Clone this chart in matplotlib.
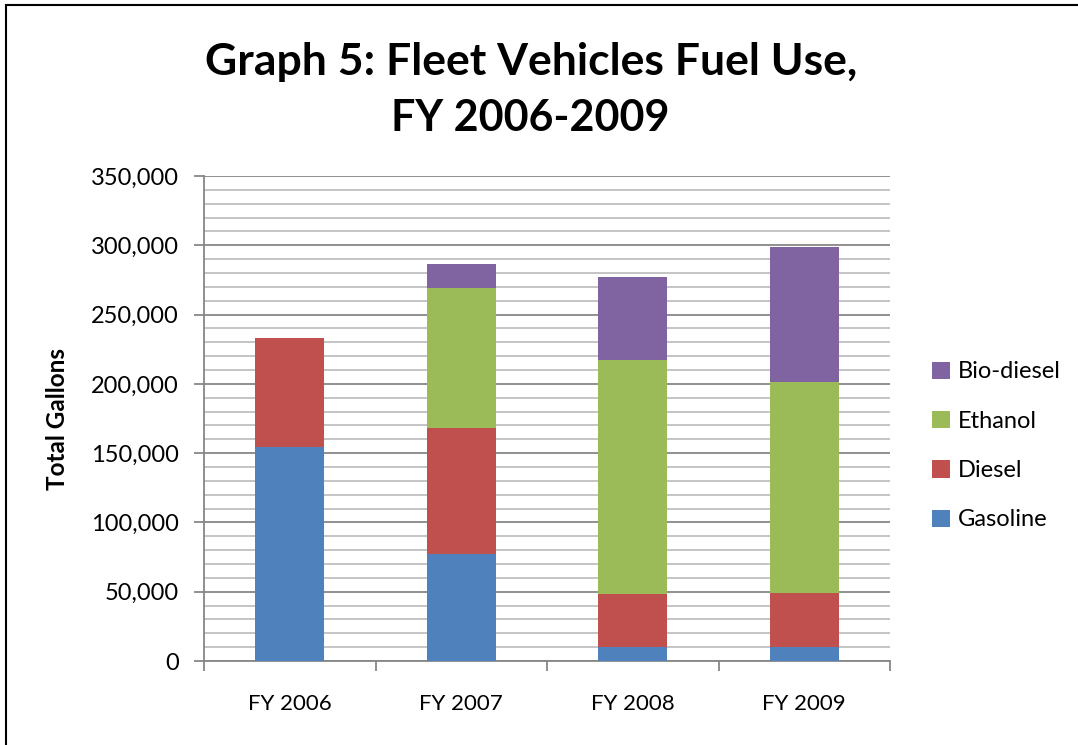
import matplotlib
matplotlib.use("Agg")
import matplotlib.pyplot as plt
import numpy as np
from matplotlib.patches import Rectangle
from matplotlib.ticker import MultipleLocator, FuncFormatter, FixedLocator

categories = ["FY 2006", "FY 2007", "FY 2008", "FY 2009"]
gasoline = [154200, 77200, 10300, 9900]
diesel = [79100, 91100, 37800, 38900]
ethanol = [0, 101100, 169100, 152300]
biodiesel = [0, 17000, 59600, 97600]
series_names = ["Gasoline", "Diesel", "Ethanol", "Bio-diesel"]
colors = ["#4F81BD", "#C0504D", "#9BBB59", "#8064A2"]

plt.rcParams['font.family'] = ['Lato', 'DejaVu Sans']

fig = plt.figure(figsize=(10.78, 7.45), dpi=100)
fig.patches.append(Rectangle((6/1078, -0.1), 1.2, 1 - 5/745 + 0.1, transform=fig.transFigure,
                             fill=False, edgecolor="black", linewidth=1.5, zorder=10))

ax = fig.add_axes([204/1078, 1 - 661/745, 686/1078, 485/745])
x = np.arange(len(categories))
bottom = np.zeros(len(categories))
data = [gasoline, diesel, ethanol, biodiesel]
bars = []
for vals, name, c in zip(data, series_names, colors):
    b = ax.bar(x, vals, 0.4, bottom=bottom, color=c, label=name, zorder=3)
    bars.append(b)
    bottom += np.array(vals)

ax.set_xlim(-0.5, 3.5)
ax.set_ylim(0, 350000)
ax.yaxis.set_major_locator(MultipleLocator(50000))
ax.yaxis.set_minor_locator(MultipleLocator(10000))
ax.yaxis.set_major_formatter(FuncFormatter(lambda v, p: f"{int(v):,}"))
ax.grid(which="minor", axis="y", color="#BFBFBF", linewidth=1.3, zorder=0)
ax.grid(which="major", axis="y", color="#878787", linewidth=1.3, zorder=1)
ax.tick_params(axis="y", which="major", length=7, width=1.3, color="#878787",
               labelsize=17, pad=11)
ax.tick_params(axis="y", which="minor", length=0)

ax.set_xticks(x)
ax.set_xticklabels(categories)
ax.xaxis.set_minor_locator(FixedLocator([-0.5, 0.5, 1.5, 2.5, 3.5]))
ax.tick_params(axis="x", which="major", length=0, labelsize=16, pad=24)
ax.tick_params(axis="x", which="minor", length=7, width=1.3, color="#878787")

for s in ["top", "right"]:
    ax.spines[s].set_visible(False)
for s in ["left", "bottom"]:
    ax.spines[s].set_color("#878787")
    ax.spines[s].set_linewidth(1.3)

ax.set_ylabel("Total Gallons", fontsize=17.5, fontweight="bold", labelpad=16)

fig.text(531/1078, 1 - 62/745, "Graph 5: Fleet Vehicles Fuel Use,", ha="center", va="center",
         fontsize=32, fontweight="bold")
fig.text(530/1078, 1 - 118/745, "FY 2006-2009", ha="center", va="center",
         fontsize=31, fontweight="bold")

handles = [bars[i] for i in [3, 2, 1, 0]]
labels = [series_names[i] for i in [3, 2, 1, 0]]
leg = fig.legend(handles, labels, loc="center left", bbox_to_anchor=(911/1078, 1 - 446/745),
                 frameon=False, fontsize=17, handlelength=0.75, handleheight=0.75,
                 labelspacing=1.2, handletextpad=0.35)

fig.savefig("out.png", dpi=100)
